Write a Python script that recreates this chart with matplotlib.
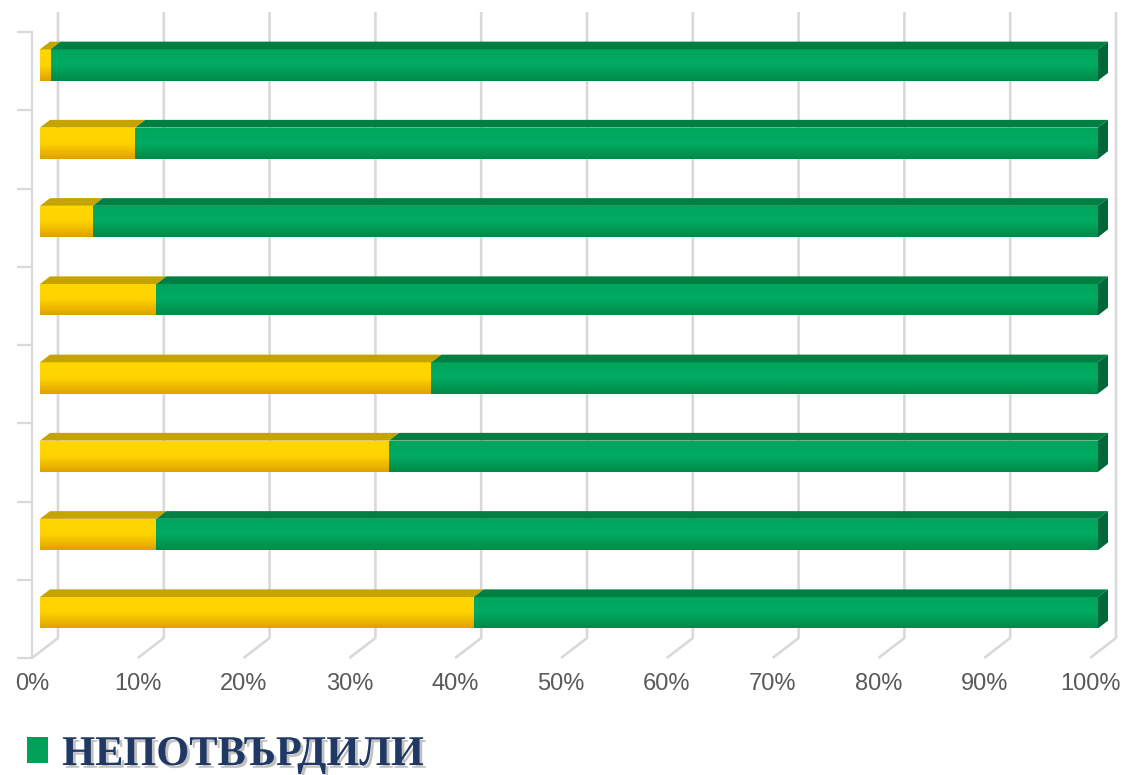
import numpy as np
import matplotlib.pyplot as plt
import matplotlib.patheffects as pe
from matplotlib.patches import Polygon
from matplotlib.colors import LinearSegmentedColormap

# data, bottom bar first (values in %)
categories = ['1', '2', '3', '4', '5', '6', '7', '8']
potvardili = [41, 11, 33, 37, 11, 5, 9, 1]
nepotvardili = [59, 89, 67, 63, 89, 95, 91, 99]
x_ticks = [0, 10, 20, 30, 40, 50, 60, 70, 80, 90, 100]
tick_labels = [f'{t}%' for t in x_ticks]

plt.rcParams['font.family'] = ['Liberation Sans', 'DejaVu Sans']

W, H = 1124, 775
fig = plt.figure(figsize=(W / 100, H / 100), dpi=100)
ax = fig.add_axes([32 / W, (H - 658) / H, 1058 / W, 626 / H])

n = len(categories)
DX = 26 / 1058          # depth of the back wall, x data units
DY = 20 / 78.25         # depth of the back wall, y data units
d_front, d_back = 8 / 26, 18 / 26
bar_h = 0.40
grid_col = '#D9D9D9'


def proj(x, y, d):
    return x + d * DX, y + d * DY


# back wall + floor grid lines
for t in x_ticks:
    f = t / 100
    ax.plot([f, f + DX, f + DX], [0, DY, n + DY], color=grid_col, lw=1.9,
            clip_on=False, zorder=0, solid_capstyle='butt')

series = [
    ('ПОТВЪРДИЛИ', potvardili, ['#FFD700', '#FFD300', '#DFA200'], '#FFC800', '#C6A400', '#B08C00'),
    ('НЕПОТВЪРДИЛИ', nepotvardili, ['#00A55C', '#00AB62', '#008A49'], '#00A058', '#007F42', '#00673A'),
]

yc = np.arange(n) + 0.5 + d_front * DY
left = np.zeros(n)
handles = []
for name, vals, grad, mid, lid_col, side_col in series:
    frac = np.array(vals) / 100
    bars = ax.barh(yc, frac, left=left + d_front * DX, height=bar_h,
                   color=mid, label=name, zorder=3, linewidth=0)
    handles.append(bars)
    cmap = LinearSegmentedColormap.from_list(name, grad)
    grad_img = np.linspace(0, 1, 64).reshape(-1, 1)
    for i, b in enumerate(bars):
        x0, y0 = b.get_x(), b.get_y()
        im = ax.imshow(grad_img, cmap=cmap, extent=[x0, x0 + b.get_width(), y0, y0 + b.get_height()],
                       origin='upper', aspect='auto', interpolation='bicubic', zorder=3.5)
        im.set_clip_path(b)
        # top face
        xa, xb = left[i], left[i] + frac[i]
        yt = i + 0.5 + bar_h / 2
        yb = i + 0.5 - bar_h / 2
        lid = Polygon([proj(xa, yt, d_front), proj(xb, yt, d_front),
                       proj(xb, yt, d_back), proj(xa, yt, d_back)],
                      closed=True, facecolor=lid_col, edgecolor='none', zorder=3.6, clip_on=False)
        ax.add_patch(lid)
        if name == series[-1][0]:
            side = Polygon([proj(xb, yb, d_front), proj(xb, yt, d_front),
                            proj(xb, yt, d_back), proj(xb, yb, d_back)],
                           closed=True, facecolor=side_col, edgecolor='none', zorder=3.6, clip_on=False)
            ax.add_patch(side)
    left = left + frac

ax.set_xlim(0, 1)
ax.set_ylim(0, n)

for s in ['top', 'right', 'bottom']:
    ax.spines[s].set_visible(False)
ax.spines['left'].set_color(grid_col)
ax.spines['left'].set_linewidth(1.6)

ax.set_yticks(range(n + 1))
ax.set_yticklabels([])
ax.tick_params(axis='y', direction='out', length=10.5, width=1.6, color=grid_col)
ax.set_xticks([t / 100 for t in x_ticks])
ax.set_xticklabels(tick_labels, fontsize=17, color='#595959')
ax.tick_params(axis='x', length=0, pad=10.5)
ax.patch.set_visible(False)

leg = fig.legend(handles=[handles[1]], labels=['НЕПОТВЪРДИЛИ'], loc='lower left',
                 bbox_to_anchor=(27 / W, 1 / H), frameon=False,
                 prop=dict(family='Liberation Serif', weight='bold', size=30.5),
                 labelcolor='#1F3864', handlelength=0.5, handleheight=0.55,
                 handletextpad=0.33, borderpad=0, borderaxespad=0)
for txt in leg.get_texts():
    txt.set_path_effects([pe.withSimplePatchShadow(offset=(2, -2), shadow_rgbFace='#666666', alpha=0.4)])

fig.savefig('out.png', dpi=100)
